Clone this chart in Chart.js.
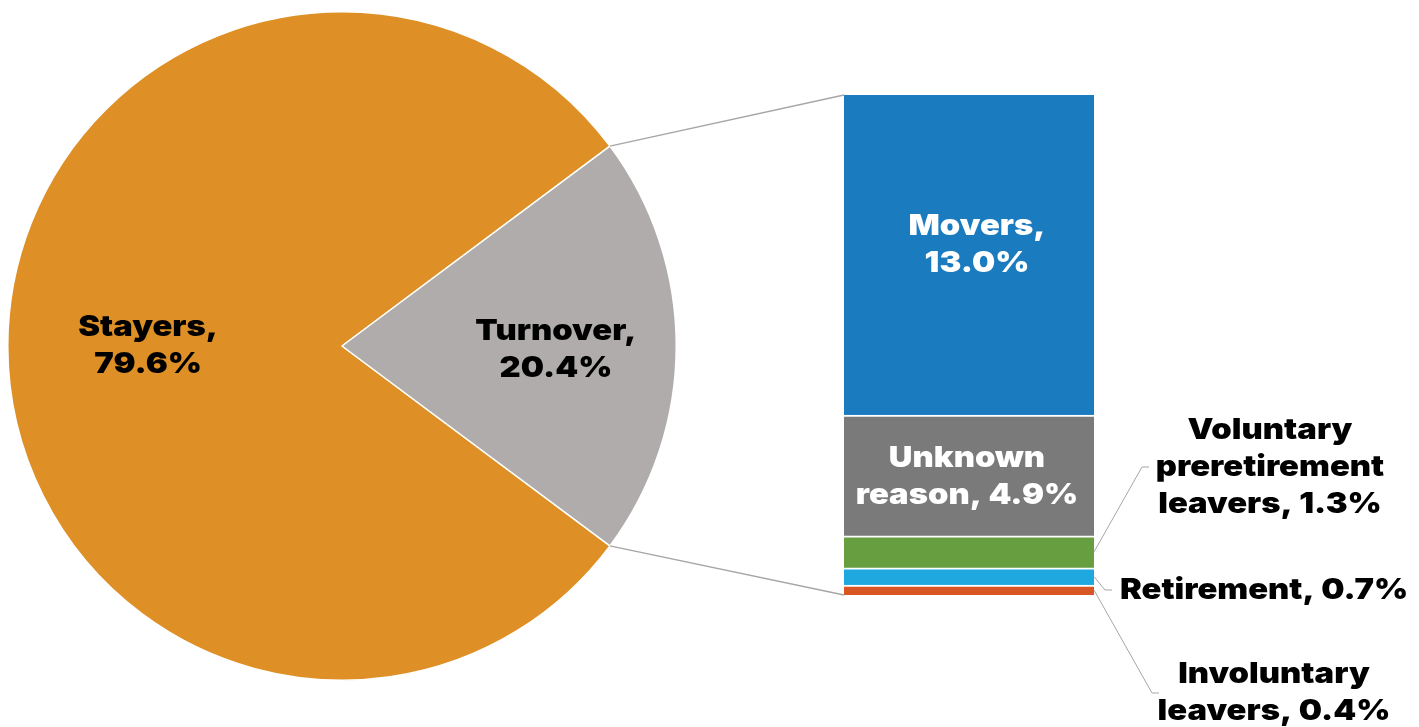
<!DOCTYPE html>
<html lang="en">
<head>
  <meta charset="UTF-8">
  <title>Stayers and turnover</title>
  <script src="https://cdn.jsdelivr.net/npm/chart.js"></script>
  <style>
    body { margin: 0; background: #fff; }
    .wrap { position: relative; width: 1419px; height: 727px; }
    .wrap canvas { position: absolute; left: 0; top: 0; }
  </style>
</head>
<body>
  <div class="wrap">
    <canvas id="pie-chart" width="1419" height="727"></canvas>
    <canvas id="bar-chart" width="1419" height="727"></canvas>
  </div>
  <script>
    // pie: stayers vs turnover
    const pieLabels = ['Stayers', 'Turnover'];
    const pieValues = [79.6, 20.4];
    const pieColors = ['#DE9026', '#AFACAB'];

    // bar: breakdown of turnover, top to bottom
    const barLabels = ['Movers', 'Unknown reason', 'Voluntary preretirement leavers', 'Retirement', 'Involuntary leavers'];
    const barValues = [13.0, 4.9, 1.3, 0.7, 0.4];
    const barColors = ['#1B7BBF', '#7A7A7A', '#679F40', '#1FA8E0', '#D85623'];

    const FONT = '900 29px Inter, "Noto Sans", sans-serif';
    const LINE_H = 37;
    const STRETCH = 1.13; // wide glyphs like the original typeface

    function drawLines(ctx, lines, x, y, align) {
      ctx.save();
      ctx.translate(x, 0);
      ctx.scale(STRETCH, 1);
      ctx.textAlign = align || 'center';
      ctx.textBaseline = 'middle';
      const y0 = y - (lines.length - 1) * LINE_H / 2;
      lines.forEach((t, i) => ctx.fillText(t, 0, y0 + i * LINE_H));
      ctx.restore();
    }

    const pieLabelPlugin = {
      id: 'pieLabels',
      afterDraw(chart) {
        const ctx = chart.ctx;
        const dist = [0.58, 0.64];
        const dy = [0, 4];
        ctx.save();
        ctx.font = FONT;
        ctx.fillStyle = '#000';
        chart.getDatasetMeta(0).data.forEach((arc, i) => {
          const mid = (arc.startAngle + arc.endAngle) / 2;
          const r = arc.outerRadius * dist[i];
          drawLines(ctx, [pieLabels[i] + ',', pieValues[i].toFixed(1) + '%'],
            arc.x + Math.cos(mid) * r, arc.y + Math.sin(mid) * r + dy[i]);
        });
        ctx.restore();
      }
    };

    const pieChart = new Chart(document.getElementById('pie-chart'), {
      type: 'pie',
      data: {
        labels: pieLabels,
        datasets: [{
          data: pieValues,
          backgroundColor: pieColors,
          borderColor: '#fff',
          borderWidth: 1.5
        }]
      },
      options: {
        responsive: false,
        animation: false,
        rotation: 90 + pieValues[1] * 3.6 / 2,
        layout: { padding: { left: 7, top: 11, right: 742, bottom: 46 } },
        plugins: { legend: { display: false }, tooltip: { enabled: false } }
      },
      plugins: [pieLabelPlugin]
    });

    const barLabelPlugin = {
      id: 'barLabels',
      afterDraw(chart) {
        const ctx = chart.ctx;
        const n = barValues.length;
        // dataset index k holds barValues[n-1-k]
        const seg = i => chart.getDatasetMeta(n - 1 - i).data[0];
        const top = seg(0), bottom = seg(n - 1);
        const left = top.x - top.width / 2;
        const right = top.x + top.width / 2;
        const barTop = top.y;
        const barBottom = bottom.base;

        ctx.save();
        // connectors from turnover slice to bar
        const arc = pieChart.getDatasetMeta(0).data[1];
        ctx.strokeStyle = '#A6A6A6';
        ctx.lineWidth = 1.3;
        ctx.beginPath();
        ctx.moveTo(arc.x + Math.cos(arc.startAngle) * arc.outerRadius, arc.y + Math.sin(arc.startAngle) * arc.outerRadius);
        ctx.lineTo(left, barTop);
        ctx.moveTo(arc.x + Math.cos(arc.endAngle) * arc.outerRadius, arc.y + Math.sin(arc.endAngle) * arc.outerRadius);
        ctx.lineTo(left, barBottom);
        ctx.stroke();

        ctx.font = FONT;
        // labels inside the two big segments
        ctx.fillStyle = '#fff';
        const m = seg(0);
        drawLines(ctx, ['Movers,', barValues[0].toFixed(1) + '%'], m.x + 8, (m.y + m.base) / 2 - 10);
        const u = seg(1);
        drawLines(ctx, ['Unknown', 'reason, ' + barValues[1].toFixed(1) + '%'], u.x - 2, (u.y + u.base) / 2 + 1);

        // outside labels with leader lines
        const outside = [
          { i: 2, dx: 48, ly: 467, tx: 176, lines: ['Voluntary', 'preretirement', 'leavers, ' + barValues[2].toFixed(1) + '%'], align: 'center' },
          { i: 3, dx: 11, ly: 590, tx: 26, lines: ['Retirement, ' + barValues[3].toFixed(1) + '%'], align: 'left' },
          { i: 4, dx: 58, ly: 693, tx: 180, lines: ['Involuntary', 'leavers, ' + barValues[4].toFixed(1) + '%'], align: 'center' }
        ];
        outside.forEach(o => {
          const s = seg(o.i);
          const cy = (s.y + s.base) / 2;
          ctx.strokeStyle = '#A6A6A6';
          ctx.lineWidth = 1;
          ctx.beginPath();
          ctx.moveTo(right, cy);
          ctx.lineTo(right + o.dx, o.ly);
          ctx.lineTo(right + o.dx + 7, o.ly);
          ctx.stroke();
          ctx.fillStyle = '#000';
          drawLines(ctx, o.lines, right + o.tx, o.ly, o.align);
        });
        ctx.restore();
      }
    };

    const datasets = barValues.map((v, i) => ({
      label: barLabels[i],
      data: [v],
      backgroundColor: barColors[i],
      borderColor: '#fff',
      borderWidth: i === 0 ? 0 : { top: 2, left: 0, right: 0, bottom: 0 },
      borderSkipped: false,
      barPercentage: 1,
      categoryPercentage: 1
    })).reverse();

    new Chart(document.getElementById('bar-chart'), {
      type: 'bar',
      data: { labels: ['Turnover'], datasets: datasets },
      options: {
        responsive: false,
        animation: false,
        layout: { padding: { left: 844, right: 325, top: 95, bottom: 132 } },
        scales: {
          x: { stacked: true, display: false },
          y: { stacked: true, display: false, min: 0, max: barValues.reduce((a, b) => a + b, 0) }
        },
        plugins: { legend: { display: false }, tooltip: { enabled: false } }
      },
      plugins: [barLabelPlugin]
    });
  </script>
</body>
</html>
